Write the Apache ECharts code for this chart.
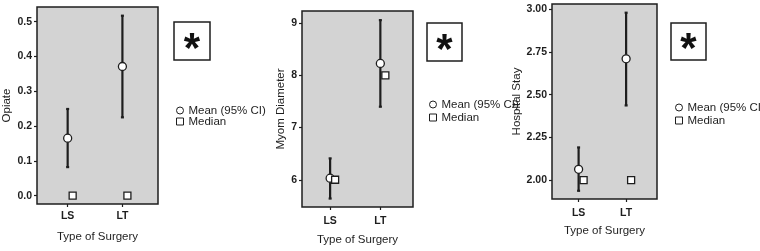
<!DOCTYPE html>
<html>
<head>
<meta charset="utf-8">
<script src="https://cdn.jsdelivr.net/npm/echarts@6/dist/echarts.min.js"></script>
<style>
  html, body { margin: 0; padding: 0; background: #fff; }
  #chart { width: 760px; height: 251px; }
</style>
</head>
<body>
<div id="chart"></div>
<script>
var categories = ['LS', 'LT']

// Opiate
var opiateMean = [0.165, 0.371]
var opiateLow = [0.082, 0.225]
var opiateHigh = [0.249, 0.517]
var opiateMedian = [0, 0]
var opiateTicks = [0, 0.1, 0.2, 0.3, 0.4, 0.5]

// Myom Diameter
var myomMean = [6.03, 8.23]
var myomLow = [5.64, 7.40]
var myomHigh = [6.41, 9.06]
var myomMedian = [6, 8]
var myomTicks = [6, 7, 8, 9]

// Hospital Stay
var stayMean = [2.063, 2.71]
var stayLow = [1.937, 2.437]
var stayHigh = [2.191, 2.98]
var stayMedian = [2, 2]
var stayTicks = [2, 2.25, 2.5, 2.75, 3]

var FONT = "'Liberation Sans',Arial,sans-serif"
var INK = '#1e1e1e'

var panels = [
  { name: 'Opiate', mean: opiateMean, low: opiateLow, high: opiateHigh, median: opiateMedian, ticks: opiateTicks, digits: 1,
    grid: { left: 37, top: 7, width: 121, height: 197 }, yMin: -0.024, yMax: 0.542, yGap: 24, xGap: 27, xMargin: 7,
    legend: { left: 171, top: 99, gap: -2 }, star: { x: 174, y: 22, w: 36, h: 38 } },
  { name: 'Myom Diameter', mean: myomMean, low: myomLow, high: myomHigh, median: myomMedian, ticks: myomTicks, digits: 0,
    grid: { left: 302, top: 11, width: 111, height: 197 }, yMin: 5.478, yMax: 9.235, yGap: 7, xGap: 27, xMargin: 9,
    legend: { left: 424, top: 93, gap: 0 }, star: { x: 427, y: 23, w: 35, h: 38 } },
  { name: 'Hospital Stay', mean: stayMean, low: stayLow, high: stayHigh, median: stayMedian, ticks: stayTicks, digits: 2,
    grid: { left: 552, top: 4, width: 105, height: 195 }, yMin: 1.889, yMax: 3.031, yGap: 22, xGap: 26, xMargin: 9,
    legend: { left: 670, top: 96, gap: 0 }, star: { x: 671, y: 23, w: 35, h: 37 } }
]

function renderErrorBar(params, api) {
  var x = api.value(0)
  var top = api.coord([x, api.value(2)])
  var bottom = api.coord([x, api.value(1)])
  var cap = 1.5
  var st = { stroke: INK, lineWidth: 2.2 }
  return {
    type: 'group',
    children: [
      { type: 'line', shape: { x1: top[0], y1: top[1], x2: bottom[0], y2: bottom[1] }, style: st },
      { type: 'line', shape: { x1: top[0] - cap, y1: top[1], x2: top[0] + cap, y2: top[1] }, style: st },
      { type: 'line', shape: { x1: bottom[0] - cap, y1: bottom[1], x2: bottom[0] + cap, y2: bottom[1] }, style: st }
    ]
  }
}

var grids = [], xAxes = [], yAxes = [], series = [], legends = [], graphics = []

panels.forEach(function(p, i) {
  grids.push({
    left: p.grid.left, top: p.grid.top, width: p.grid.width, height: p.grid.height,
    show: true, backgroundColor: '#d3d3d3', borderColor: INK, borderWidth: 1.5
  })
  xAxes.push({
    type: 'value', gridIndex: i, min: -0.56, max: 1.65, position: 'bottom',
    name: 'Type of Surgery', nameLocation: 'middle', nameGap: p.xGap,
    nameTextStyle: { fontFamily: FONT, fontSize: 11.5, color: INK },
    axisLine: { show: false, onZero: false },
    splitLine: { show: false },
    axisTick: { customValues: [0, 1], length: 3, lineStyle: { color: INK, width: 1.2 } },
    axisLabel: {
      customValues: [0, 1], margin: p.xMargin, fontFamily: FONT, fontSize: 10.5, fontWeight: 'bold', color: INK,
      formatter: function(v) { return categories[Math.round(v)] }
    }
  })
  yAxes.push({
    type: 'value', gridIndex: i, min: p.yMin, max: p.yMax, position: 'left',
    name: p.name, nameLocation: 'middle', nameGap: p.yGap,
    nameTextStyle: { fontFamily: FONT, fontSize: 11.5, color: INK },
    axisLine: { show: false, onZero: false },
    splitLine: { show: false },
    axisTick: { customValues: p.ticks, length: 3, lineStyle: { color: INK, width: 1.2 } },
    axisLabel: {
      customValues: p.ticks, margin: 5, fontFamily: FONT, fontSize: 10.5, fontWeight: 'bold', color: INK,
      formatter: function(v) { return v.toFixed(p.digits) }
    }
  })
  series.push({
    type: 'custom', xAxisIndex: i, yAxisIndex: i, renderItem: renderErrorBar, silent: true, z: 2,
    encode: { x: 0, y: [1, 2] },
    data: categories.map(function(c, k) { return [k, p.low[k], p.high[k]] })
  })
  series.push({
    name: 'Mean (95% CI)', type: 'scatter', xAxisIndex: i, yAxisIndex: i, z: 3,
    symbol: 'circle', symbolSize: 8,
    itemStyle: { color: '#fff', borderColor: INK, borderWidth: 1.3, opacity: 1 },
    data: categories.map(function(c, k) { return [k, p.mean[k]] })
  })
  series.push({
    name: 'Median', type: 'scatter', xAxisIndex: i, yAxisIndex: i, z: 3,
    symbol: 'rect', symbolSize: 7, symbolOffset: [5, 0],
    itemStyle: { color: '#fff', borderColor: INK, borderWidth: 1.3, opacity: 1 },
    data: categories.map(function(c, k) { return [k, p.median[k]] })
  })
  legends.push({
    orient: 'vertical', left: p.legend.left, top: p.legend.top, itemGap: p.legend.gap,
    itemWidth: 7, itemHeight: 7, selectedMode: false,
    textStyle: { fontFamily: FONT, fontSize: 11.5, color: INK, lineHeight: 13 },
    itemStyle: { color: '#fff', borderColor: INK, borderWidth: 1 },
    data: [{ name: 'Mean (95% CI)', icon: 'circle' }, { name: 'Median', icon: 'rect' }]
  })
  graphics.push({
    type: 'rect', shape: { x: p.star.x, y: p.star.y, width: p.star.w, height: p.star.h },
    style: { fill: '#fff', stroke: INK, lineWidth: 1.5 }
  })
  graphics.push({
    type: 'text', x: p.star.x + p.star.w / 2, y: p.star.y + p.star.h / 2 + 9,
    style: { text: '*', fontFamily: FONT, fontSize: 42, fontWeight: 'bold',
      fill: '#111', textAlign: 'center', textVerticalAlign: 'middle' }
  })
})

var chart = echarts.init(document.getElementById('chart'))
chart.setOption({
  animation: false,
  grid: grids,
  xAxis: xAxes,
  yAxis: yAxes,
  legend: legends,
  graphic: graphics,
  series: series
})
</script>
</body>
</html>
